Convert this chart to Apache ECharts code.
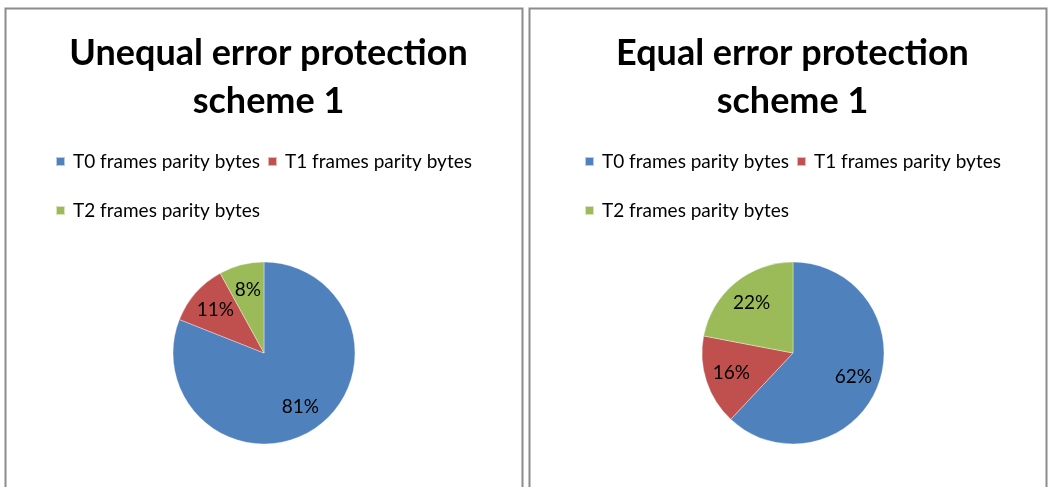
<!DOCTYPE html>
<html><head><meta charset="utf-8">
<script src="https://cdn.jsdelivr.net/npm/echarts@6/dist/echarts.min.js"></script>
<style>html,body{margin:0;padding:0;background:#fff}#c{width:1048px;height:487px}</style>
</head><body><div id="c"></div>
<script>
const categories = ['T0 frames parity bytes', 'T1 frames parity bytes', 'T2 frames parity bytes'];
const unequalValues = [81, 11, 8];
const equalValues = [62, 16, 22];
const titles = ['Unequal error protection\nscheme 1', 'Equal error protection\nscheme 1'];
const colors = ['#4F81BD', '#C0504D', '#9BBB59'];

const FONT = 'Lato, "Open Sans", sans-serif';
const R = 91;
const centers = [[264, 353], [793, 353]];
const panelLeft = [5, 529];
const panelW = 517;
const legendLeft = [50, 579];

function mk(vals) { return categories.map((n, i) => ({ name: n, value: vals[i] })); }
const sets = [unequalValues, equalValues];

const series = [];
sets.forEach((vals, k) => {
  series.push({
    type: 'pie', center: centers[k], radius: R, startAngle: 90, clockwise: true,
    data: mk(vals), label: { show: false }, labelLine: { show: false },
    itemStyle: { borderColor: 'rgba(255,255,255,0.6)', borderWidth: 0.6 },
    emphasis: { scale: false }
  });
  series.push({
    type: 'pie', center: centers[k], radius: R * 1.36, startAngle: 90, clockwise: true,
    data: mk(vals), silent: true, z: 5,
    itemStyle: { color: 'rgba(0,0,0,0)' },
    label: { show: true, position: 'inside', formatter: '{d}%', color: '#000', fontFamily: FONT, fontSize: 19 },
    labelLine: { show: false }, emphasis: { disabled: true }
  });
});

const legends = [];
[0, 1].forEach(k => {
  legends.push({ left: legendLeft[k], top: 147, data: [categories[0], categories[1]] });
  legends.push({ left: legendLeft[k], top: 196, data: [categories[2]] });
});
legends.forEach(l => Object.assign(l, {
  orient: 'horizontal', itemWidth: 9, itemHeight: 9, itemGap: 7, icon: 'rect',
  textStyle: { fontFamily: FONT, fontSize: 19, color: '#000', padding: [0, 0, 0, 3] }, selectedMode: false
}));

const option = {
  color: colors,
  animation: false,
  title: titles.map((t, k) => ({
    text: t, left: panelLeft[k] + panelW / 2, top: 24, textAlign: 'center',
    textStyle: { fontFamily: FONT, fontWeight: 'bold', fontSize: 36, lineHeight: 48, color: '#000' }
  })),
  legend: legends,
  graphic: panelLeft.map(x => ({
    type: 'rect', shape: { x: x + 0.5, y: 8.5, width: panelW, height: 500 },
    style: { fill: 'none', stroke: '#8c8c8c', lineWidth: 2 }, silent: true, z: -1
  })),
  series
};
echarts.init(document.getElementById('c')).setOption(option);
</script></body></html>
